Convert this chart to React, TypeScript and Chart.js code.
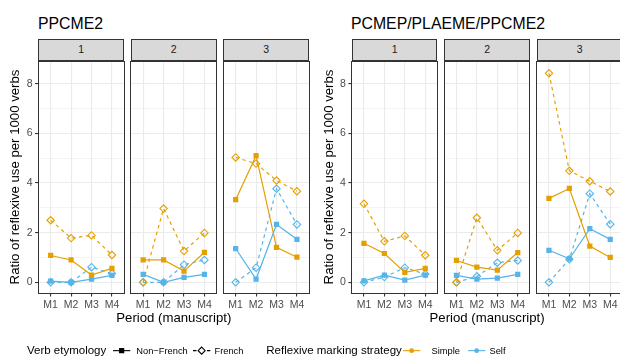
import React, { useEffect, useRef } from "react";
import { Chart, registerables } from "chart.js";

Chart.register(...registerables);

// ---------- data ----------
const periods = ["M1", "M2", "M3", "M4"];
const facetLabels = ["1", "2", "3"];
const panelTitles = ["PPCME2", "PCMEP/PLAEME/PPCME2"];
const yMajorTicks = [0, 2, 4, 6, 8];
const yMinorTicks = [1, 3, 5, 7];
const etymologyLabels = ["Non\u2212French", "French"];
const strategyLabels = ["Simple", "Self"];
const legendTitles = ["Verb etymology", "Reflexive marking strategy"];
const xAxisTitle = "Period (manuscript)";
const yAxisTitle = "Ratio of reflexive use per 1000 verbs";

// PPCME2 panel: one row per facet (1, 2, 3), values for M1..M4
const ppcme2SimpleNonFrench = [
  [1.08, 0.9, 0.29, 0.56],
  [0.9, 0.9, 0.45, 1.21],
  [3.33, 5.1, 1.41, 1.01],
];
const ppcme2SimpleFrench = [
  [2.5, 1.78, 1.89, 1.1],
  [0, 2.97, 1.26, 1.99],
  [5.03, 4.78, 4.1, 3.67],
];
const ppcme2SelfNonFrench = [
  [0.05, 0, 0.13, 0.28],
  [0.32, 0, 0.2, 0.32],
  [1.36, 0.13, 2.33, 1.73],
];
const ppcme2SelfFrench = [
  [0, 0, 0.61, 0.35],
  [0, 0, 0.71, 0.9],
  [0, 0.59, 3.77, 2.33],
];

// PCMEP/PLAEME/PPCME2 panel
const allSimpleNonFrench = [
  [1.57, 1.16, 0.4, 0.56],
  [0.88, 0.61, 0.49, 1.2],
  [3.38, 3.78, 1.46, 1.0],
];
const allSimpleFrench = [
  [3.16, 1.65, 1.87, 1.09],
  [0, 2.6, 1.29, 1.99],
  [8.42, 4.49, 4.07, 3.66],
];
const allSelfNonFrench = [
  [0.06, 0.29, 0.09, 0.29],
  [0.28, 0.13, 0.17, 0.32],
  [1.29, 0.95, 2.16, 1.73],
];
const allSelfFrench = [
  [0, 0.21, 0.59, 0.33],
  [0, 0.24, 0.79, 0.88],
  [0, 0.93, 3.57, 2.34],
];

// ---------- style / layout ----------
const ORANGE = "#E69F00";
const BLUE = "#56B4E9";
const FONT = "'Liberation Sans', Arial, Helvetica, sans-serif";
Chart.defaults.font.family = FONT;

type Series = { values: number[][]; color: string; french: boolean };

const panels: { series: Series[]; facetLefts: number[]; titleLeft: number; yTitleX: number }[] = [
  {
    series: [
      { values: ppcme2SimpleNonFrench, color: ORANGE, french: false },
      { values: ppcme2SimpleFrench, color: ORANGE, french: true },
      { values: ppcme2SelfNonFrench, color: BLUE, french: false },
      { values: ppcme2SelfFrench, color: BLUE, french: true },
    ],
    facetLefts: [38.4, 130.9, 223.4],
    titleLeft: 38,
    yTitleX: 15.3,
  },
  {
    series: [
      { values: allSimpleNonFrench, color: ORANGE, french: false },
      { values: allSimpleFrench, color: ORANGE, french: true },
      { values: allSelfNonFrench, color: BLUE, french: false },
      { values: allSelfFrench, color: BLUE, french: true },
    ],
    facetLefts: [351.7, 444.2, 536.7],
    titleLeft: 351,
    yTitleX: 328.6,
  },
];

const FACET_W = 85.8;
const PANEL_TOP = 61;
const PANEL_BOTTOM = 293.3;
const CANVAS_TOP = 51;
const CANVAS_BOTTOM = 314;
const Y_MIN = -0.443;
const Y_MAX = 8.914;

const borderPlugin = {
  id: "panelBorder",
  afterDraw(chart: any) {
    const { ctx, chartArea: a } = chart;
    const l = Math.round(a.left - 0.5) + 0.5;
    const t = Math.round(a.top - 0.5) + 0.5;
    const r = Math.round(a.right - 0.5) + 0.5;
    const b = Math.round(a.bottom - 0.5) + 0.5;
    ctx.save();
    ctx.strokeStyle = "#333333";
    ctx.lineWidth = 1;
    ctx.strokeRect(l, t, r - l, b - t);
    ctx.restore();
  },
};

function FacetChart({
  series,
  facetIdx,
  facetLeft,
  showY,
}: {
  series: Series[];
  facetIdx: number;
  facetLeft: number;
  showY: boolean;
}) {
  const ref = useRef<HTMLCanvasElement>(null);
  const canvasLeft = Math.floor(facetLeft - 40);
  const yAxisW = facetLeft - canvasLeft;
  const width = Math.ceil(yAxisW + FACET_W + 6);
  const height = CANVAS_BOTTOM - CANVAS_TOP;
  const padTop = PANEL_TOP - CANVAS_TOP;
  const xAxisH = CANVAS_BOTTOM - PANEL_BOTTOM;
  const padRight = width - yAxisW - FACET_W;

  useEffect(() => {
    if (!ref.current) return;
    const datasets: any[] = [];
    // point layers first so they are painted above the lines
    series.forEach((s) => {
      datasets.push({
        data: s.values[facetIdx].map((v, i) => ({ x: i, y: v })),
        showLine: false,
        pointStyle: s.french ? "rectRot" : "rect",
        pointRadius: 3.7,
        pointHoverRadius: 3.7,
        pointBackgroundColor: s.french ? "rgba(0,0,0,0)" : s.color,
        pointBorderColor: s.color,
        pointBorderWidth: s.french ? 1.1 : 0,
      });
    });
    series.forEach((s) => {
      datasets.push({
        data: s.values[facetIdx].map((v, i) => ({ x: i, y: v })),
        borderColor: s.color,
        borderWidth: 1.2,
        borderDash: s.french ? [3.5, 3.5] : [],
        pointRadius: 0,
        tension: 0,
        fill: false,
      });
    });

    const allY = [...yMajorTicks, ...yMinorTicks].sort((a, b) => a - b);

    const chart = new Chart(ref.current, {
      type: "line",
      data: { datasets },
      plugins: [borderPlugin],
      options: {
        responsive: false,
        animation: false,
        events: [],
        layout: { padding: { top: padTop, right: padRight, bottom: 0, left: 0 } },
        plugins: { legend: { display: false }, tooltip: { enabled: false } },
        scales: {
          x: {
            type: "linear",
            min: -0.6,
            max: 3.6,
            afterBuildTicks: (s: any) => {
              s.ticks = periods.map((_, i) => ({ value: i }));
            },
            afterFit: (s: any) => {
              s.height = xAxisH;
            },
            ticks: {
              callback: (v: any) => periods[v] ?? "",
              color: "#4D4D4D",
              font: { size: 10.5, family: FONT },
              padding: 1.8,
              maxRotation: 0,
              autoSkip: false,
            },
            grid: {
              color: "#EBEBEB",
              lineWidth: 1.1,
              tickColor: "#333333",
              tickLength: 3.3,
              tickWidth: 1.1,
            },
            border: { display: false },
          },
          y: {
            type: "linear",
            min: Y_MIN,
            max: Y_MAX,
            afterBuildTicks: (s: any) => {
              s.ticks = allY.map((v) => ({ value: v }));
            },
            afterFit: (s: any) => {
              s.width = yAxisW;
            },
            ticks: {
              callback: (v: any) => (showY && yMajorTicks.includes(v) ? String(v) : ""),
              color: "#4D4D4D",
              font: { size: 10.5, family: FONT },
              padding: 2.6,
              autoSkip: false,
            },
            grid: {
              color: "#EBEBEB",
              lineWidth: (c: any) => (c.tick && yMajorTicks.includes(c.tick.value) ? 1.1 : 0.55),
              tickColor: (c: any) =>
                showY && c.tick && yMajorTicks.includes(c.tick.value) ? "#333333" : "rgba(0,0,0,0)",
              tickLength: 3.3,
              tickWidth: 1.1,
            },
            border: { display: false },
          },
        },
      } as any,
    });
    return () => chart.destroy();
  }, [series, facetIdx, facetLeft, showY]);

  return (
    <canvas
      ref={ref}
      width={width}
      height={height}
      style={{ position: "absolute", left: canvasLeft, top: CANVAS_TOP, width, height }}
    />
  );
}

function Text({
  children,
  left,
  cy,
  size,
  color = "#000",
  width,
  align = "left",
}: {
  children: React.ReactNode;
  left: number;
  cy: number;
  size: number;
  color?: string;
  width?: number;
  align?: "left" | "center";
}) {
  const h = 20;
  return (
    <div
      style={{
        position: "absolute",
        left,
        top: cy - h / 2,
        height: h,
        lineHeight: h + "px",
        fontSize: size,
        color,
        width,
        textAlign: align,
        whiteSpace: "nowrap",
      }}
    >
      {children}
    </div>
  );
}

function Key({ cx, color, dashed, shape }: { cx: number; color: string; dashed: boolean; shape: "square" | "diamond" | "circle" }) {
  const w = 17.3;
  const cy = 350.7;
  const m = w / 2;
  return (
    <svg
      width={w}
      height={w}
      style={{ position: "absolute", left: cx - m, top: cy - m, overflow: "visible" }}
    >
      <line
        x1={0}
        y1={m}
        x2={w}
        y2={m}
        stroke={color}
        strokeWidth={1.1}
        strokeDasharray={dashed ? "3.5 3.5" : undefined}
      />
      {shape === "square" && <rect x={m - 2.6} y={m - 2.6} width={5.2} height={5.2} fill={color} />}
      {shape === "diamond" && (
        <polygon
          points={`${m - 3.5},${m} ${m},${m - 3.5} ${m + 3.5},${m} ${m},${m + 3.5}`}
          fill="#fff"
          stroke={color}
          strokeWidth={1.1}
        />
      )}
      {shape === "circle" && <circle cx={m} cy={m} r={2.4} fill={color} />}
    </svg>
  );
}

export default function App() {
  return (
    <div
      style={{
        position: "absolute",
        left: 0,
        top: 0,
        width: 620,
        height: 358,
        overflow: "hidden",
        background: "#fff",
        fontFamily: FONT,
      }}
    >
      {panels.map((p, pi) => {
        const first = p.facetLefts[0];
        const last = p.facetLefts[p.facetLefts.length - 1] + FACET_W;
        const cx = (first + last) / 2;
        const cyPanel = (PANEL_TOP + PANEL_BOTTOM) / 2;
        return (
          <React.Fragment key={pi}>
            <Text left={p.titleLeft} cy={23.8} size={15.8}>
              {panelTitles[pi]}
            </Text>
            {p.facetLefts.map((fl, fi) => (
              <div
                key={"s" + fi}
                style={{
                  position: "absolute",
                  left: fl,
                  top: 39.3,
                  width: FACET_W,
                  height: 21.7,
                  boxSizing: "border-box",
                  background: "#D9D9D9",
                  border: "1px solid #333333",
                  textAlign: "center",
                  lineHeight: "19px",
                  fontSize: 10.5,
                  color: "#1A1A1A",
                }}
              >
                {facetLabels[fi]}
              </div>
            ))}
            {p.facetLefts.map((fl, fi) => (
              <FacetChart key={"c" + fi} series={p.series} facetIdx={fi} facetLeft={fl} showY={fi === 0} />
            ))}
            <Text left={cx - 100} cy={317.5} size={13.2} width={200} align="center">
              {xAxisTitle}
            </Text>
            <div
              style={{
                position: "absolute",
                left: p.yTitleX - 130,
                top: cyPanel - 9,
                width: 260,
                height: 18,
                lineHeight: "18px",
                fontSize: 13.2,
                textAlign: "center",
                whiteSpace: "nowrap",
                transform: "rotate(-90deg)",
                transformOrigin: "50% 50%",
              }}
            >
              {yAxisTitle}
            </div>
          </React.Fragment>
        );
      })}

      {/* legends */}
      <Text left={27} cy={350.3} size={11.5}>
        {legendTitles[0]}
      </Text>
      <Key cx={121.5} color="#000" dashed={false} shape="square" />
      <Text left={136.3} cy={350.5} size={9.3}>
        {etymologyLabels[0]}
      </Text>
      <Key cx={201.7} color="#000" dashed={true} shape="diamond" />
      <Text left={214.5} cy={350.5} size={9.3}>
        {etymologyLabels[1]}
      </Text>

      <Text left={266.3} cy={350.3} size={11.5}>
        {legendTitles[1]}
      </Text>
      <Key cx={411.7} color={ORANGE} dashed={false} shape="circle" />
      <Text left={431.5} cy={350.5} size={9.3}>
        {strategyLabels[0]}
      </Text>
      <Key cx={476.7} color={BLUE} dashed={false} shape="circle" />
      <Text left={489.5} cy={350.5} size={9.3}>
        {strategyLabels[1]}
      </Text>
    </div>
  );
}
